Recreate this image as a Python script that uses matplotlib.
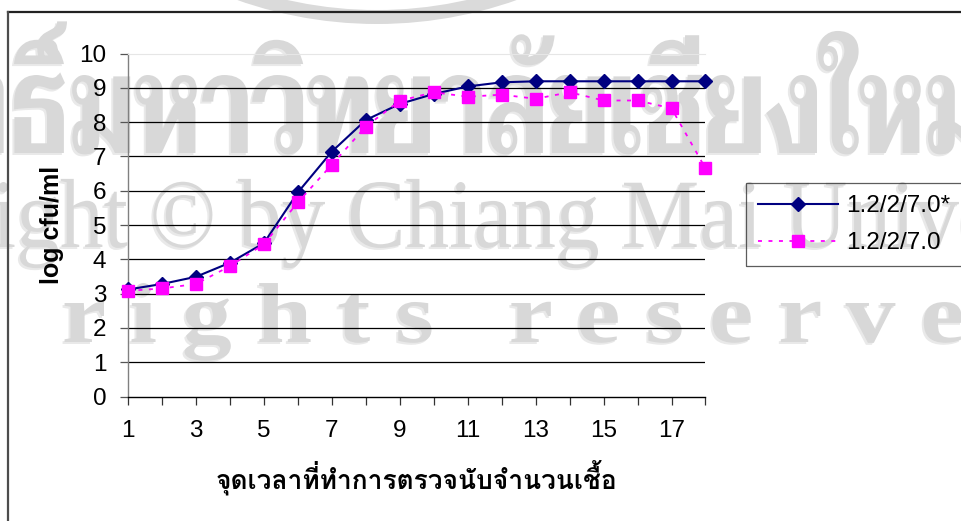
import matplotlib
matplotlib.use("Agg")
import matplotlib.pyplot as plt
from matplotlib.font_manager import FontProperties
from matplotlib.lines import Line2D
from matplotlib.patches import PathPatch, Wedge
from matplotlib.textpath import TextPath
from matplotlib.transforms import Affine2D

# growth curve readings, log cfu/ml at each sampling point
points = [1, 2, 3, 4, 5, 6, 7, 8, 9, 10, 11, 12, 13, 14, 15, 16, 17, 18]
series_a = [3.12, 3.28, 3.49, 3.9, 4.47, 5.95, 7.14, 8.06, 8.53, 8.82, 9.04,
            9.16, 9.19, 9.19, 9.19, 9.19, 9.19, 9.19]
series_b = [3.08, 3.15, 3.28, 3.8, 4.44, 5.66, 6.76, 7.87, 8.62, 8.87, 8.74,
            8.8, 8.68, 8.87, 8.63, 8.63, 8.4, 6.65]
label_a = "1.2/2/7.0*"
label_b = "1.2/2/7.0"
x_title = "จุดเวลาที่ทำการตรวจนับจำนวนเชื้อ"
y_title = "log cfu/ml"

W, H = 962, 521
fig = plt.figure(figsize=(W / 100, H / 100), dpi=100)
fig.patch.set_facecolor("white")
px = Affine2D().scale(1 / fig.dpi) + fig.dpi_scale_trans


def stamp(text, pre_a, xa, pre_b, xb, ref, ref_h, base, family, weight,
          color="#d8d8d8"):
    """Lay a big pale text across the page, scaled to hit two x anchors."""
    prop = FontProperties(family=family, weight=weight)

    def right(s):
        return TextPath((0, 0), s, size=1, prop=prop).get_extents().x1

    ra, rb = right(pre_a), right(pre_b)
    sx = (xb - xa) / (rb - ra)
    ox = xa - ra * sx
    sy = ref_h / TextPath((0, 0), ref, size=1, prop=prop).get_extents().y1
    path = TextPath((0, 0), text, size=1, prop=prop)
    tr = Affine2D().scale(sx, sy).translate(ox, H - base) + px
    shade = PathPatch(path, fc="#e9e9e9", ec="none", zorder=-6,
                      transform=tr + Affine2D().translate(-2, -2))
    fig.add_artist(shade)
    fig.add_artist(PathPatch(path, fc=color, ec="none", zorder=-5, transform=tr))


# background stamp
fig.add_artist(Wedge((377, H + 396), 420, 180, 360, width=14, fc="#dadada",
                     ec="none", transform=px, zorder=-5))
stamp("ลิขสิทธิ์มหาวิทยาลัยเชียงใหม่", "ลิขสิทธิ์", 67,
      "ลิขสิทธิ์มหาวิทยาลัยเชียง", 817, "ม", 78, 153, "Taviraj", "bold")
stamp("Copyright © by Chiang Mai University", "Copyright © by", 325,
      "Copyright © by Chiang", 598, "C", 65, 247, "Liberation Serif", "normal")
stamp("A l l   r i g h t s   r e s e r v e d", "A l l   r", 104,
      "A l l   r i g h t s   r e s e r v e", 962, "x", 39, 342,
      "Liberation Serif", "bold")

# chart frame, open to the right and bottom
fig.add_artist(Line2D([8, W], [H - 12, H - 12], color="#222222", lw=1.6,
                      transform=px))
fig.add_artist(Line2D([8, 8], [0, H - 12], color="#4d4d4d", lw=1.6,
                      transform=px))

ax = fig.add_axes([128 / W, 1 - 396.5 / H, 577.5 / W, 343 / H])
ax.set_facecolor("none")

ax.plot(points, series_a, color="#000080", lw=1.5, marker="D", ms=7.5,
        mfc="#000080", mec="#000080", label=label_a, zorder=3, clip_on=False)
ax.plot(points, series_b, color="#ff00ff", lw=1.3, ls=(0, (2.2, 3.6)),
        marker="s", ms=8.5, mfc="#ff00ff", mec="#ff00ff", label=label_b,
        zorder=4, clip_on=False)

ax.set_xlim(1, 18)
ax.set_ylim(0, 10)
ax.set_xticks(points)
ax.set_xticklabels([str(p) if p % 2 else "" for p in points])
ax.set_yticks(range(0, 11))

ax.grid(axis="y", color="black", lw=0.9)
ax.set_axisbelow(True)
ax.get_ygridlines()[-1].set_visible(False)
ax.get_ygridlines()[0].set_visible(False)

ax.spines["top"].set_color("#e6e6e6")
ax.spines["top"].set_linewidth(0.8)
ax.spines["right"].set_visible(False)
ax.spines["left"].set_color("#808080")
ax.spines["left"].set_linewidth(1.0)
ax.spines["bottom"].set_color("black")
ax.spines["bottom"].set_linewidth(1.0)

ax.tick_params(axis="x", direction="out", length=6, width=0.9, color="#333333",
               pad=11, labelsize=17.5)
ax.tick_params(axis="y", direction="out", length=6, width=0.9, color="#555555",
               pad=9.5, labelsize=17.5)
for lab in ax.get_xticklabels() + ax.get_yticklabels():
    lab.set_family("Liberation Sans")

ax.set_ylabel(y_title, fontsize=18, fontweight="bold", family="Liberation Sans")
ax.yaxis.set_label_coords(-0.11, 0.5)
ax.set_xlabel(x_title, fontsize=19, fontweight="bold",
              family=["Loma", "DejaVu Sans"], va="baseline")
ax.xaxis.set_label_coords(0.5, (396.5 - 490) / 343)

leg = fig.legend(loc="upper left", bbox_to_anchor=(746 / W, 1 - 183 / H),
                 borderaxespad=0, handlelength=3.3, handletextpad=0.33,
                 borderpad=0.5, labelspacing=0.62, fancybox=False,
                 prop={"family": "Liberation Sans", "size": 17.5})
leg.get_frame().set_facecolor("none")
leg.get_frame().set_edgecolor("#333333")
leg.get_frame().set_linewidth(0.9)

fig.savefig("out.png", dpi=100)
